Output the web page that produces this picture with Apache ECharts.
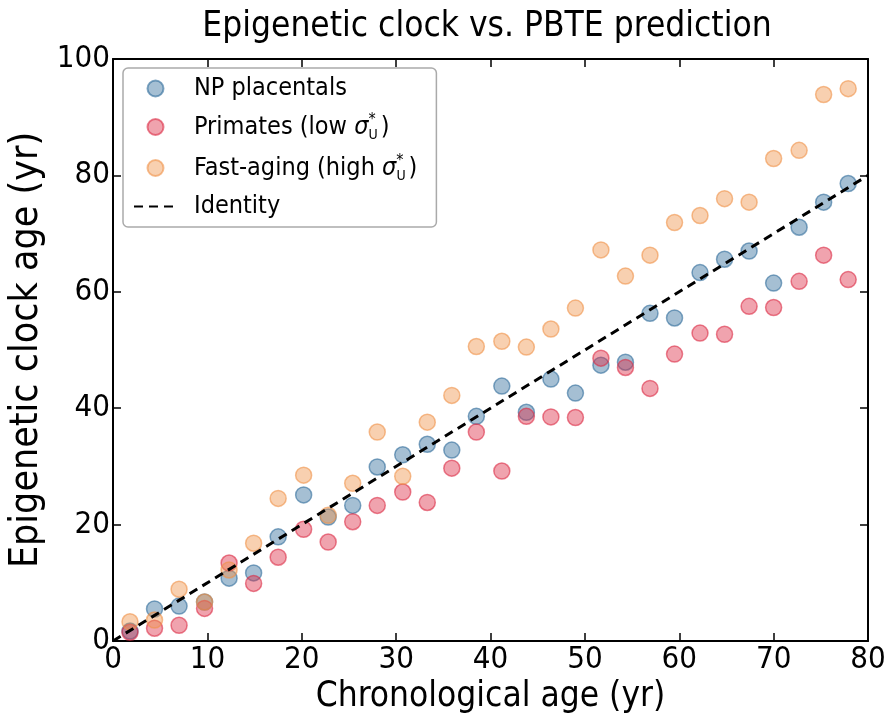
<!DOCTYPE html>
<html>
<head>
<meta charset="utf-8">
<script src="https://cdn.jsdelivr.net/npm/echarts@6/dist/echarts.min.js"></script>
<style>
  html, body { margin: 0; padding: 0; background: #fff; }
  #chart { width: 889px; height: 717px; }
</style>
</head>
<body>
<div id="chart"></div>
<script>
// chronological ages (shared x positions)
const ages = [1.8, 4.4, 7.0, 9.7, 12.3, 14.9, 17.5, 20.2, 22.8, 25.4, 28.0, 30.7, 33.3, 35.9, 38.5,
  41.2, 43.8, 46.4, 49.0, 51.7, 54.3, 56.9, 59.5, 62.2, 64.8, 67.4, 70.0, 72.7, 75.3, 77.9];

const npPlacentals = [1.7, 5.5, 6.0, 6.7, 10.8, 11.7, 17.9, 25.1, 21.3, 23.3, 29.9, 32.0, 33.8, 32.8, 38.6,
  43.8, 39.3, 45.0, 42.6, 47.4, 47.9, 56.3, 55.5, 63.3, 65.6, 67.0, 61.5, 71.1, 75.4, 78.6];

const primates = [1.5, 2.2, 2.7, 5.6, 13.4, 9.9, 14.4, 19.2, 17.0, 20.5, 23.3, 25.6, 23.8, 29.7, 35.9,
  29.2, 38.6, 38.5, 38.4, 48.6, 47.0, 43.4, 49.3, 52.9, 52.7, 57.5, 57.3, 61.8, 66.3, 62.1];

const fastAging = [3.3, 3.6, 8.9, 6.7, 12.2, 16.8, 24.5, 28.5, 21.6, 27.1, 35.9, 28.3, 37.6, 42.2, 50.6,
  51.5, 50.5, 53.6, 57.2, 67.2, 62.7, 66.3, 71.9, 73.1, 76.0, 75.4, 82.9, 84.3, 93.9, 94.9];

const identity = [[0, 0], [80, 80]];

const xTicks = [0, 10, 20, 30, 40, 50, 60, 70, 80];
const yTicks = [0, 20, 40, 60, 80, 100];

const FONT = "'DejaVu Sans Condensed', 'DejaVu Sans', sans-serif";

function pairs(ys) {
  return ys.map((y, i) => [ages[i], y]);
}

function rgba(hex, a) {
  const n = parseInt(hex.slice(1), 16);
  return `rgba(${(n >> 16) & 255},${(n >> 8) & 255},${n & 255},${a})`;
}

const seriesDefs = [
  { name: "NP placentals", color: "#2e6a99", values: npPlacentals },
  { name: "Primates (low σ*U)", color: "#dc2a44", values: primates },
  { name: "Fast-aging (high σ*U)", color: "#ef9247", values: fastAging },
];

// legend labels with stacked super/subscript on sigma
const legendText = {
  "NP placentals": "{t|NP placentals}",
  "Primates (low σ*U)": "{t|Primates (low }{sg|σ}{sp|*}{sb|U}{t|)}",
  "Fast-aging (high σ*U)": "{t|Fast-aging (high }{sg|σ}{sp|*}{sb|U}{t|)}",
  "Identity": "{t|Identity}",
};

const chart = echarts.init(document.getElementById("chart"), null, { renderer: "canvas" });

const axisCommon = {
  type: "value",
  splitLine: { show: false },
  axisLine: { show: true, onZero: false, lineStyle: { color: "#000", width: 2 } },
  axisTick: { show: true, inside: true, length: 8, lineStyle: { color: "#000", width: 1.5 } },
};

const option = {
  animation: false,
  backgroundColor: "#fff",
  title: {
    text: "Epigenetic clock vs. PBTE prediction",
    left: 482,
    textAlign: "center",
    top: 4,
    textStyle: { fontFamily: FONT, fontSize: 35, fontWeight: "normal", color: "#000" },
  },
  grid: { left: 113, right: 21, top: 59, bottom: 76, containLabel: false, outerBoundsMode: "none" },
  legend: {
    orient: "vertical",
    left: 123,
    top: 68,
    padding: [8, 19, 8, 10],
    itemWidth: 43,
    itemHeight: 16,
    itemGap: 11,
    backgroundColor: "rgba(255,255,255,0.85)",
    borderColor: "#aaa",
    borderWidth: 1.5,
    borderRadius: 5,
    data: [
      "NP placentals",
      "Primates (low σ*U)",
      "Fast-aging (high σ*U)",
      { name: "Identity", itemStyle: { opacity: 0 } },
    ],
    formatter: (name) => legendText[name],
    textStyle: {
      fontFamily: FONT,
      color: "#000",
      padding: [0, 0, 0, 12],
      rich: {
        t: { fontFamily: FONT, fontSize: 25, color: "#000", lineHeight: 30 },
        sg: { fontFamily: FONT, fontSize: 25, fontStyle: "italic", color: "#000", lineHeight: 30 },
        sp: { fontFamily: FONT, fontSize: 16, color: "#000", width: 0.1, verticalAlign: "top", lineHeight: 30 },
        sb: { fontFamily: FONT, fontSize: 14, color: "#000", verticalAlign: "bottom", lineHeight: 27, padding: [0, 3, 0, 0] },
      },
    },
  },
  xAxis: [
    Object.assign({}, axisCommon, {
      min: 0, max: 80, interval: 10,
      name: "Chronological age (yr)",
      nameLocation: "middle",
      nameGap: 22,
      nameTextStyle: { fontFamily: FONT, fontSize: 35, color: "#000" },
      axisLabel: {
        fontFamily: FONT, fontSize: 31, color: "#000", margin: 3,
        formatter: (v) => (xTicks.includes(v) ? String(v) : ""),
      },
    }),
    Object.assign({}, axisCommon, {
      position: "top", min: 0, max: 80, interval: 10,
      axisLabel: { show: false },
    }),
  ],
  yAxis: [
    Object.assign({}, axisCommon, {
      min: 0, max: 100, interval: 20,
      name: "Epigenetic clock age (yr)",
      nameLocation: "middle",
      nameGap: 55,
      nameTextStyle: { fontFamily: FONT, fontSize: 39, color: "#000" },
      axisLabel: {
        fontFamily: FONT, fontSize: 31, color: "#000", margin: 3,
        formatter: (v) => (yTicks.includes(v) ? String(v) : ""),
      },
    }),
    Object.assign({}, axisCommon, {
      position: "right", min: 0, max: 100, interval: 20,
      axisLabel: { show: false },
    }),
  ],
  series: seriesDefs.map((s) => ({
    name: s.name,
    type: "scatter",
    data: pairs(s.values),
    symbol: "circle",
    symbolSize: 16,
    z: 2,
    itemStyle: {
      color: rgba(s.color, 0.54),
      borderColor: rgba(s.color, 0.74),
      borderWidth: 1.5,
    },
  })).concat([
    {
      name: "Identity",
      type: "line",
      data: identity,
      symbol: "none",
      z: 5,
      lineStyle: { color: "#000", width: 3, type: [9, 6] },
      itemStyle: { color: "#000" },
    },
  ]),
};

chart.setOption(option);
</script>
</body>
</html>
